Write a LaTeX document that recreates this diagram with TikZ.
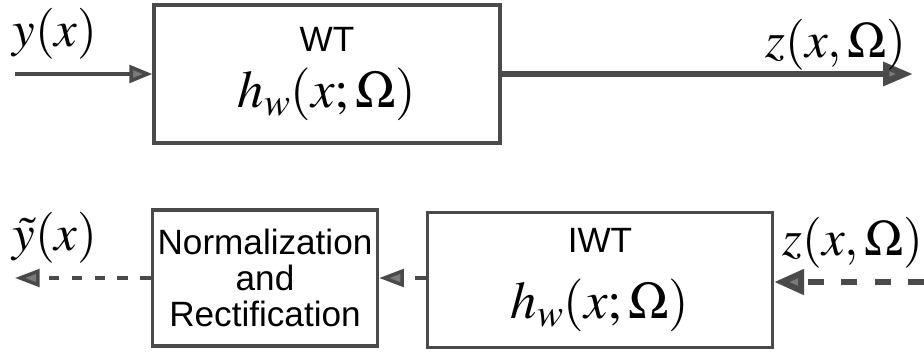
\documentclass[tikz,border=0pt]{standalone}
\usepackage{mathptmx}
\usepackage{fontspec}
\setsansfont{Liberation Sans}
\usetikzlibrary{arrows.meta,positioning}

\definecolor{linegray}{HTML}{4A4A4A}
\definecolor{tipgray}{HTML}{7A7A7A}

\begin{document}
\begin{tikzpicture}[
        % one unit is one pixel of the reference
        x=0.02cm, y=-0.02cm,
        %
        block/.style={draw=linegray, line width=1.9pt, align=center,
            inner sep=0pt, font=\sffamily\fontsize{20}{22}\selectfont},
        sig/.style={font=\fontsize{29}{33}\selectfont},
        sigline/.style={draw=linegray, line width=2pt,
            -{Triangle[length=13pt,width=10pt,fill=tipgray]}},
        bigline/.style={draw=linegray, line width=3.6pt,
            -{Triangle[length=17pt,width=13pt,fill=tipgray]}},
        dashline/.style={draw=linegray, line width=2pt,
            dash pattern=on 6pt off 7pt,
            -{Triangle[length=14pt,width=10pt,fill=tipgray]}}
    ]

        % Fix the margins of the reference
        \useasboundingbox (0,0) rectangle (924,355);

        % Define the sizes of the blocks
        \def\wtw{346} \def\wth{138}
        \def\nrw{225} \def\nrh{136}
        \def\iww{345} \def\iwh{135}

        % Draw the WT block
        \node[block, minimum width=\wtw*0.02cm, minimum height=\wth*0.02cm]
            (wt) at (327,74)
            {WT\\[8pt]
             {\fontsize{30}{32}\selectfont $h_w(x;\Omega)$}};

        % Draw the normalization block
        \node[block, minimum width=\nrw*0.02cm, minimum height=\nrh*0.02cm,
              font=\sffamily\fontsize{20}{20.5}\selectfont]
            (norm) at (265,278)
            {Normalization\\and\\Rectification};

        % Draw the IWT block
        \node[block, minimum width=\iww*0.02cm, minimum height=\iwh*0.02cm]
            (iwt) at (600,280)
            {IWT\\[14pt]
             {\fontsize{30}{32}\selectfont $h_w(x;\Omega)$}};

        % Free ends of the connectors
        \coordinate (yin)  at (15,74);
        \coordinate (zout) at (913,74);
        \coordinate (zin)  at (924,282);
        \coordinate (yout) at (15,278);

        % Draw the forward transform
        \draw[sigline] (yin) -- (wt);
        \draw[bigline] (wt) -- (zout);

        % Draw the inverse transform
        \draw[dashline, line width=3.4pt, dash pattern=on 9pt off 10pt,
              -{Triangle[length=17pt,width=14pt,fill=tipgray]}]
            (zin) -- (iwt.east |- zin);
        \draw[dashline] (iwt.west |- norm) -- (norm);
        \draw[dashline] (norm) -- (yout);

        % Add the signal labels
        \node[sig] (ylab)  at (55,34)   {$y(x)$};
        \node[sig] (zlab)  at (836,45)  {$z(x,\Omega)$};
        \node[sig] (ytlab) at (55,238)  {$\tilde{y}(x)$};
        \node[sig] (zlab2) at (853,243) {$z(x,\Omega)$};

    \end{tikzpicture}
\end{document}
